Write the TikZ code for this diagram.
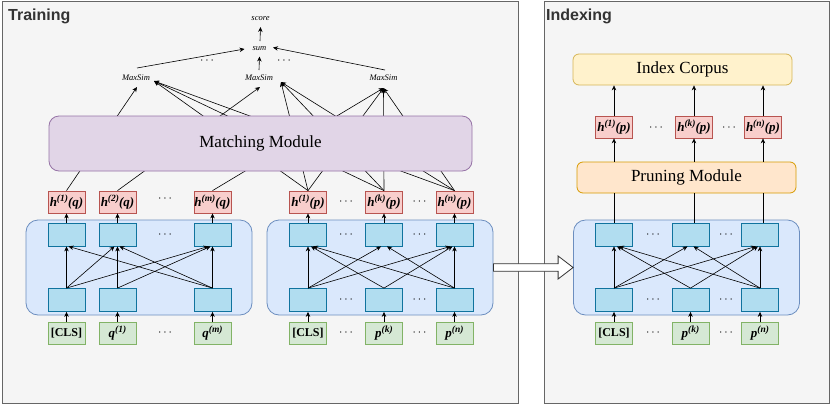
\documentclass[tikz,border=0pt]{standalone}
\usepackage{fontspec}
\setmainfont{Liberation Serif}
\newfontfamily\titlefont{Liberation Sans}
\usetikzlibrary{calc,arrows.meta}
\definecolor{framebg}{HTML}{F5F5F5}
\definecolor{framed}{HTML}{666666}
\definecolor{encf}{HTML}{DAE8FC}
\definecolor{encd}{HTML}{6C8EBF}
\definecolor{cellf}{HTML}{B1DDF0}
\definecolor{celld}{HTML}{10739E}
\definecolor{hf}{HTML}{F8CECC}
\definecolor{hd}{HTML}{B85450}
\definecolor{inf}{HTML}{D5E8D4}
\definecolor{ind}{HTML}{82B366}
\definecolor{mmf}{HTML}{E1D5E7}
\definecolor{mmd}{HTML}{9673A6}
\definecolor{pmf}{HTML}{FFE6CC}
\definecolor{pmd}{HTML}{D79B00}
\definecolor{icf}{HTML}{FFF2CC}
\definecolor{icd}{HTML}{D6B656}
\definecolor{titlec}{HTML}{333333}
\newcommand{\supx}[1]{\raisebox{0.42em}{\fontsize{9.5}{10}\selectfont #1}}
\begin{document}
\begin{tikzpicture}[x=1pt,y=-1pt,
  frame/.style={draw=framed,fill=framebg,line width=0.9pt},
  title/.style={anchor=west,inner sep=0pt,text=titlec,font=\titlefont\bfseries\fontsize{16}{18}\selectfont},
  encbox/.style={draw=encd,fill=encf,rounded corners=12pt,line width=0.8pt,minimum width=226pt,minimum height=95pt,inner sep=0pt},
  cell/.style={draw=celld,fill=cellf,line width=0.8pt,minimum width=37pt,minimum height=23pt,inner sep=0pt},
  hbox/.style={draw=hd,fill=hf,line width=0.8pt,minimum width=37pt,minimum height=22pt,inner sep=0pt,font=\fontsize{13}{14}\selectfont\bfseries\itshape},
  inbox/.style={draw=ind,fill=inf,line width=0.8pt,minimum width=37pt,minimum height=22pt,inner sep=0pt,font=\fontsize{12}{13}\selectfont\bfseries},
  module/.style={line width=0.8pt,inner sep=0pt,font=\fontsize{17}{18}\selectfont},
  lbl/.style={inner sep=1pt,font=\fontsize{8.5}{9}\selectfont\itshape},
  dotsn/.style={inner sep=0pt,font=\fontsize{12}{12}\selectfont},
  arr/.style={-{Stealth[length=5pt,width=4.5pt]},line width=0.6pt},
  ln/.style={line width=0.6pt}]
\useasboundingbox (0,0) rectangle (830,405);
% frames
\draw[frame] (2,1) rectangle (518,403);
\draw[frame] (544,1) rectangle (829,403);
\node[title] (ttrain) at (8,16) {Training};
\node[title] (tindex) at (546,16) {Indexing};

% encoder boxes
\node[encbox] (encq) at (139,267.5) {};
\node[encbox] (encp) at (380,267.5) {};
\node[encbox] (enci) at (686.5,267.5) {};

% ---------- query side ----------
\foreach \n/\x in {1/66.5,2/117.5,3/212.5}{
  \node[cell] (qt\n) at (\x,234.5) {};
  \node[cell] (qb\n) at (\x,300) {};
}
\node[hbox] (hq1) at (66.5,202) {h\supx{(1)}(q)};
\node[hbox] (hq2) at (117.5,202) {h\supx{(2)}(q)};
\node[hbox] (hq3) at (212.5,202) {h\supx{(m)}(q)};
\node[inbox] (iq1) at (66.5,333) {[CLS]};
\node[inbox] (iq2) at (117.5,333) {\fontsize{13}{14}\selectfont\itshape q\supx{(1)}};
\node[inbox] (iq3) at (212.5,333) {\fontsize{13}{14}\selectfont\itshape q\supx{(m)}};
\node[dotsn] (dq1) at (165,199) {$\cdots$};
\node[dotsn] (dq2) at (165,234.5) {$\cdots$};
\node[dotsn] (dq3) at (165,333) {$\cdots$};

% ---------- passage side (training) ----------
\foreach \n/\x in {1/308,2/384,3/454.5}{
  \node[cell] (pt\n) at (\x,234.5) {};
  \node[cell] (pb\n) at (\x,300) {};
}
\node[hbox] (hp1) at (308,202) {h\supx{(1)}(p)};
\node[hbox] (hp2) at (384,202) {h\supx{(k)}(p)};
\node[hbox] (hp3) at (454.5,202) {h\supx{(n)}(p)};
\node[inbox] (ip1) at (308,333) {[CLS]};
\node[inbox] (ip2) at (384,333) {\fontsize{13}{14}\selectfont\itshape p\supx{(k)}};
\node[inbox] (ip3) at (454.5,333) {\fontsize{13}{14}\selectfont\itshape p\supx{(n)}};
\foreach \y/\r in {202/h,234.5/t,300/b,333/i}{
  \node[dotsn] (dpa\r) at (346,\y) {$\cdots$};
  \node[dotsn] (dpb\r) at (419.5,\y) {$\cdots$};
}

% ---------- indexing encoder ----------
\foreach \n/\x in {1/614,2/690.5,3/760}{
  \node[cell] (it\n) at (\x,234.5) {};
  \node[cell] (ib\n) at (\x,300) {};
}
\node[inbox] (ii1) at (614,333) {[CLS]};
\node[inbox] (ii2) at (690.5,333) {\fontsize{13}{14}\selectfont\itshape p\supx{(k)}};
\node[inbox] (ii3) at (760,333) {\fontsize{13}{14}\selectfont\itshape p\supx{(n)}};
\foreach \y/\r in {234.5/t,300/b,333/i}{
  \node[dotsn] (dia\r) at (653,\y) {$\cdots$};
  \node[dotsn] (dib\r) at (726,\y) {$\cdots$};
}
\node[hbox] (hi1) at (614,127) {h\supx{(1)}(p)};
\node[hbox] (hi2) at (694,127) {h\supx{(k)}(p)};
\node[hbox] (hi3) at (763,127) {h\supx{(n)}(p)};
\node[dotsn] (dih1) at (656,128) {$\cdots$};
\node[dotsn] (dih2) at (729,128) {$\cdots$};

% query encoder
\draw[arr] (qb1.north) -- (qt1.south);
\draw[arr] (qb1.north) -- ($(qt2.south)+(-3,0)$);
\draw[arr] (qb1.north) -- ($(qt3.south)+(-4,0)$);
\draw[arr] (qb2.north) -- (qt2.south);
\draw[arr] (qb2.north) -- ($(qt3.south)+(-2,0)$);
\draw[arr] (qb3.north) -- (qt3.south);
\draw[arr] (qb3.north) -- ($(qt1.south)+(2,0)$);
\draw[arr] (qb3.north) -- ($(qt2.south)+(2,0)$);
% passage encoder (training) and indexing encoder
\foreach \e in {p,i}{
  \draw[arr] (\e b1.north) -- (\e t1.south);
  \draw[arr] (\e b1.north) -- ($(\e t2.south)+(-3,0)$);
  \draw[arr] (\e b1.north) -- ($(\e t3.south)+(-4,0)$);
  \draw[arr] (\e b2.north) -- ($(\e t1.south)+(3,0)$);
  \draw[arr] (\e b2.north) -- ($(\e t3.south)+(-2,0)$);
  \draw[arr] (\e b3.north) -- (\e t3.south);
  \draw[arr] (\e b3.north) -- ($(\e t1.south)+(5,0)$);
  \draw[arr] (\e b3.north) -- ($(\e t2.south)+(3,0)$);
}
% inputs to cells, cells to h
\foreach \n in {1,2,3}{
  \draw[arr] (iq\n.north) -- (qb\n.south);
  \draw[arr] (ip\n.north) -- (pb\n.south);
  \draw[arr] (ii\n.north) -- (ib\n.south);
  \draw[arr] (qt\n.north) -- (hq\n.south);
  \draw[arr] (pt\n.north) -- (hp\n.south);
}

% ---------- MaxSim / sum / score ----------
\node[lbl] (ms1) at (136,78) {MaxSim};
\node[lbl] (ms2) at (259,78) {MaxSim};
\node[lbl] (ms3) at (383.5,78) {MaxSim};
\node[lbl] (sum) at (259.5,48.5) {sum};
\node[lbl] (score) at (260.5,19) {score};
\node[dotsn] (dm1) at (207,61) {$\cdots$};
\node[dotsn] (dm2) at (284,61) {$\cdots$};

\draw[arr] (hq1.north) -- ($(ms1)+(1,9)$);
\draw[arr] (hq2.north) -- ($(ms2)+(1,9)$);
\draw[arr] (hq3.north) -- ($(ms3)+(0,10)$);
\foreach \n in {1,2,3}{
  \draw[arr] (hp\n.north) -- ($(ms1)+(18,3)$);
  \draw[arr] (hp\n.north) -- ($(ms2)+(22,4)$);
  \draw[arr] (hp\n.north) -- ($(ms3)+(0,10)$);
}
\draw[arr] ($(ms1)+(1,-10)$) -- ($(sum)+(-15,0.5)$);
\draw[arr] ($(ms2)+(0,-8)$) -- ($(sum)+(0,8)$);
\draw[arr] ($(ms3)+(1.5,-8)$) -- ($(sum)+(13.5,-1)$);
\draw[arr] ($(sum)+(0.5,-7.5)$) -- ($(score)+(0,8)$);

% matching module on top of the lines
\node[module,draw=mmd,fill=mmf,rounded corners=10pt,minimum width=423pt,minimum height=55pt] (mm) at (260.5,143.5) {Matching Module};

% ---------- indexing modules ----------
\node[module,draw=pmd,fill=pmf,rounded corners=6pt,minimum width=219pt,minimum height=31pt] (pm) at (686.5,177.5) {Pruning Module};
\node[module,draw=icd,fill=icf,rounded corners=6pt,minimum width=219pt,minimum height=31pt] (ic) at (682.5,69.5) {Index Corpus};
\foreach \n in {1,2,3}{
  \draw[ln] (hi\n |- it\n.north) -- (hi\n |- pm.south);
  \draw[arr] (hi\n |- pm.north) -- (hi\n.south);
  \draw[arr] (hi\n.north) -- (hi\n |- ic.south);
}

% block arrow Training -> Indexing
\draw[line width=0.8pt,draw=black!80,fill=white]
  ($(encp.east)+(0,-3.8)$) -- ($(enci.west)+(-15,-3.8)$) -- ($(enci.west)+(-15,-11.5)$)
  -- (enci.west) -- ($(enci.west)+(-15,11.5)$) -- ($(enci.west)+(-15,3.8)$)
  -- ($(encp.east)+(0,3.8)$) -- cycle;
\end{tikzpicture}
\end{document}
